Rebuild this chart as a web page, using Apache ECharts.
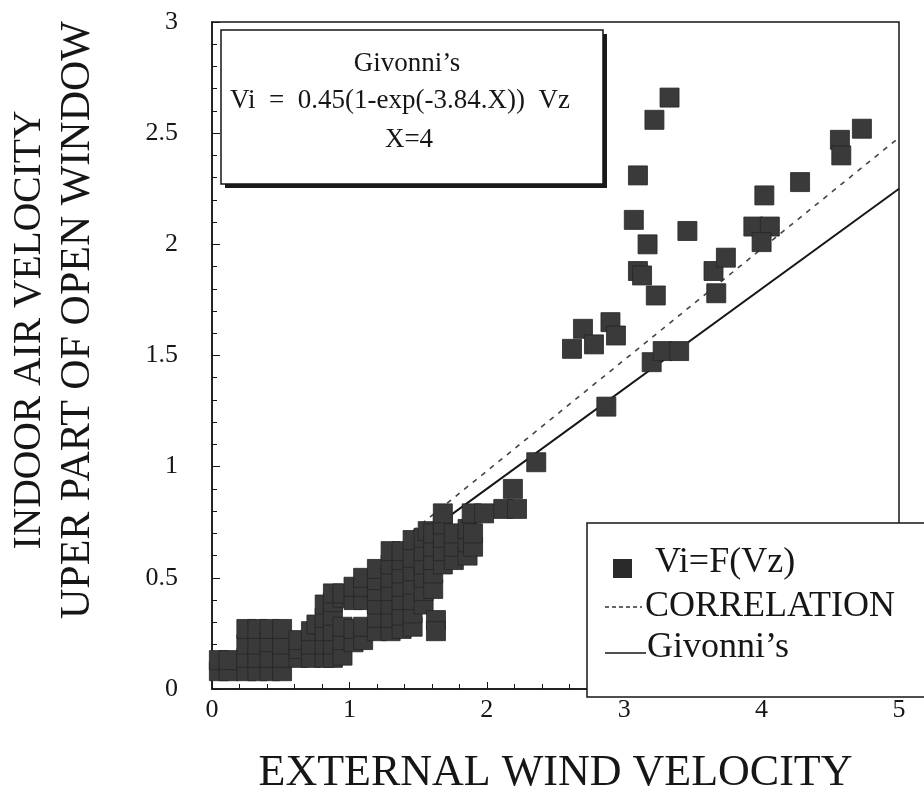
<!DOCTYPE html>
<html>
<head>
<meta charset="utf-8">
<script src="https://cdn.jsdelivr.net/npm/echarts@6/dist/echarts.min.js"></script>
<style>
  html, body { margin: 0; padding: 0; background: #fff; }
  #chart { width: 924px; height: 800px; }
</style>
</head>
<body>
<div id="chart"></div>
<script>
// Measured indoor velocity (Vi) against external wind velocity (Vz), [Vz, Vi]
const lowWindPoints = [
  [0.05, 0.08], [0.05, 0.13], [0.12, 0.08], [0.12, 0.13],
  [0.25, 0.08], [0.25, 0.14], [0.25, 0.20], [0.25, 0.27],
  [0.33, 0.08], [0.33, 0.14], [0.33, 0.20], [0.33, 0.27],
  [0.42, 0.08], [0.42, 0.14], [0.42, 0.21], [0.42, 0.27],
  [0.51, 0.08], [0.51, 0.14], [0.51, 0.20], [0.51, 0.27],
  [0.63, 0.14], [0.63, 0.18], [0.63, 0.22],
  [0.72, 0.14], [0.72, 0.20], [0.72, 0.26], [0.76, 0.29],
  [0.82, 0.14], [0.82, 0.20], [0.82, 0.26], [0.82, 0.32], [0.82, 0.38],
  [0.88, 0.14], [0.88, 0.20], [0.88, 0.26], [0.88, 0.33], [0.88, 0.39], [0.88, 0.43],
  [0.95, 0.15], [0.95, 0.22], [0.95, 0.28], [0.95, 0.41], [0.95, 0.43],
  [1.03, 0.21], [1.03, 0.27], [1.03, 0.40], [1.03, 0.46],
  [1.10, 0.22], [1.10, 0.28], [1.10, 0.40], [1.10, 0.46], [1.10, 0.50],
  [1.20, 0.26], [1.20, 0.32], [1.20, 0.38], [1.20, 0.44], [1.20, 0.49], [1.20, 0.54],
  [1.30, 0.26], [1.30, 0.32], [1.30, 0.38], [1.30, 0.44], [1.30, 0.50], [1.30, 0.56], [1.30, 0.62],
  [1.38, 0.27], [1.38, 0.33], [1.38, 0.40], [1.38, 0.46], [1.38, 0.52], [1.38, 0.58], [1.38, 0.62],
  [1.46, 0.28], [1.46, 0.34], [1.46, 0.40], [1.46, 0.47], [1.46, 0.53], [1.46, 0.59], [1.46, 0.67],
  [1.54, 0.38], [1.54, 0.44], [1.54, 0.50], [1.54, 0.56], [1.54, 0.62], [1.54, 0.68], [1.57, 0.71],
  [1.61, 0.45], [1.61, 0.52], [1.61, 0.58], [1.61, 0.64], [1.61, 0.70],
  [1.68, 0.56], [1.68, 0.62], [1.68, 0.68], [1.68, 0.74], [1.68, 0.79],
  [1.76, 0.58], [1.76, 0.64], [1.76, 0.70],
  [1.86, 0.60], [1.86, 0.66], [1.86, 0.72], [1.90, 0.64], [1.90, 0.70],
  [1.63, 0.31], [1.63, 0.26],
  [1.89, 0.79], [1.98, 0.79], [2.12, 0.81], [2.22, 0.81], [2.19, 0.90],
  [2.36, 1.02], [2.87, 1.27]
];

const highWindPoints = [
  [2.62, 1.53], [2.70, 1.62], [2.78, 1.55], [2.90, 1.65], [2.94, 1.59],
  [3.07, 2.11], [3.10, 2.31], [3.22, 2.56], [3.33, 2.66], [3.17, 2.00],
  [3.10, 1.88], [3.13, 1.86], [3.23, 1.77], [3.46, 2.06],
  [3.20, 1.47], [3.28, 1.52], [3.40, 1.52],
  [3.65, 1.88], [3.74, 1.94], [3.67, 1.78],
  [3.94, 2.08], [4.06, 2.08], [4.00, 2.01], [4.02, 2.22],
  [4.28, 2.28], [4.57, 2.47], [4.58, 2.40], [4.73, 2.52]
];

// Fitted correlation and Givonni's prediction, end points [Vz, Vi]
const correlationLine = [[1.40, 0.68], [5.00, 2.48]];
const givonniLine = [[1.40, 0.63], [5.00, 2.25]];

const xTickLabels = ['0', '1', '2', '3', '4', '5'];
const yTickLabels = ['0', '0.5', '1', '1.5', '2', '2.5', '3'];

const legendNames = ['Vi=F(Vz)', 'CORRELATION', 'Givonni\u2019s'];
const formulaLines = ['Givonni\u2019s', 'Vi  =  0.45(1-exp(-3.84.X))  Vz', 'X=4'];
const xTitle = 'EXTERNAL WIND VELOCITY';
const yTitleLines = ['INDOOR AIR VELOCITY', 'UPER PART OF OPEN WINDOW'];

const SERIF = '"Liberation Serif", "DejaVu Serif", serif';
const INK = '#161616';

const chart = echarts.init(document.getElementById('chart'), null, { renderer: 'canvas' });

const legendX = 587, legendY = 523;

chart.setOption({
  animation: false,
  backgroundColor: '#ffffff',
  grid: {
    left: 212, right: 25, top: 22, bottom: 103,
    show: true, borderColor: INK, borderWidth: 1.5, backgroundColor: 'transparent'
  },
  xAxis: {
    type: 'value', min: 0, max: 5, interval: 1,
    name: xTitle, nameLocation: 'middle', nameGap: 62,
    nameTextStyle: { fontFamily: SERIF, fontSize: 44, color: INK },
    axisLine: { show: true, onZero: false, lineStyle: { color: INK, width: 1.5 } },
    axisTick: { show: true, inside: true, length: 7, lineStyle: { color: INK, width: 1 } },
    minorTick: { show: true, splitNumber: 5, length: 5, lineStyle: { color: INK, width: 1 } },
    splitLine: { show: false },
    axisLabel: {
      fontFamily: SERIF, fontSize: 26, color: INK, margin: 8,
      formatter: v => xTickLabels[Math.round(v)]
    }
  },
  yAxis: {
    type: 'value', min: 0, max: 3, interval: 0.5,
    axisLine: { show: true, onZero: false, lineStyle: { color: INK, width: 1.5 } },
    axisTick: { show: true, inside: true, length: 8, lineStyle: { color: INK, width: 1 } },
    minorTick: { show: true, splitNumber: 5, length: 5, lineStyle: { color: INK, width: 1 } },
    splitLine: { show: false },
    axisLabel: {
      fontFamily: SERIF, fontSize: 26, color: INK, margin: 34,
      formatter: v => yTickLabels[Math.round(v / 0.5)]
    }
  },
  series: [
    {
      name: legendNames[1], type: 'line', data: correlationLine, z: 2,
      showSymbol: false, symbol: 'none',
      lineStyle: { color: '#444', width: 1.6, type: [5, 6] }
    },
    {
      name: legendNames[2], type: 'line', data: givonniLine, z: 2,
      showSymbol: false, symbol: 'none',
      lineStyle: { color: INK, width: 2 }
    },
    {
      name: legendNames[0], type: 'scatter', data: lowWindPoints.concat(highWindPoints), z: 3,
      symbol: 'rect', symbolSize: 19,
      itemStyle: { color: '#3a3a3a', borderColor: '#262626', borderWidth: 0.8, opacity: 1 }
    }
  ],
  graphic: [
    // formula box with drop shadow
    { type: 'rect', z: 50, shape: { x: 225, y: 34, width: 382, height: 154 }, style: { fill: '#1a1a1a' } },
    { type: 'rect', z: 51, shape: { x: 221, y: 30, width: 382, height: 154 },
      style: { fill: '#ffffff', stroke: INK, lineWidth: 1.5 } },
    { type: 'text', z: 52, x: 407, y: 64,
      style: { text: formulaLines[0], font: '27px ' + SERIF, fill: INK, textAlign: 'center', textVerticalAlign: 'middle' } },
    { type: 'text', z: 52, x: 400, y: 101,
      style: { text: formulaLines[1], font: '27px ' + SERIF, fill: INK, textAlign: 'center', textVerticalAlign: 'middle' } },
    { type: 'text', z: 52, x: 409, y: 140,
      style: { text: formulaLines[2], font: '27px ' + SERIF, fill: INK, textAlign: 'center', textVerticalAlign: 'middle' } },

    // y-axis title, two lines
    { type: 'text', z: 52, x: 30, y: 330, rotation: Math.PI / 2,
      style: { text: yTitleLines[0], font: '39.5px ' + SERIF, fill: INK, textAlign: 'center', textVerticalAlign: 'middle' } },
    { type: 'text', z: 52, x: 78, y: 320, rotation: Math.PI / 2,
      style: { text: yTitleLines[1], font: '42px ' + SERIF, fill: INK, textAlign: 'center', textVerticalAlign: 'middle' } },

    // legend panel
    { type: 'rect', z: 100, shape: { x: legendX, y: legendY, width: 360, height: 174 },
      style: { fill: '#ffffff', stroke: INK, lineWidth: 1.5 } },
    { type: 'rect', z: 101, shape: { x: 613, y: 559, width: 19, height: 19 }, style: { fill: '#2a2a2a' } },
    { type: 'text', z: 101, x: 655, y: 563,
      style: { text: legendNames[0], font: '36px ' + SERIF, fill: INK, textVerticalAlign: 'middle' } },
    { type: 'line', z: 101, shape: { x1: 605, y1: 607, x2: 642, y2: 607 },
      style: { stroke: '#333', lineWidth: 1.3, lineDash: [4, 3] } },
    { type: 'text', z: 101, x: 645, y: 607,
      style: { text: legendNames[1], font: '36px ' + SERIF, fill: INK, textVerticalAlign: 'middle' } },
    { type: 'line', z: 101, shape: { x1: 605, y1: 653, x2: 646, y2: 653 },
      style: { stroke: INK, lineWidth: 1.6 } },
    { type: 'text', z: 101, x: 647, y: 648,
      style: { text: legendNames[2], font: '36px ' + SERIF, fill: INK, textVerticalAlign: 'middle' } }
  ]
});
</script>
</body>
</html>
